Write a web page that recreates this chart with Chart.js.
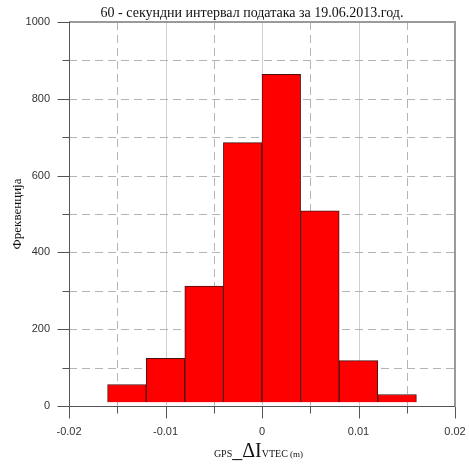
<!DOCTYPE html>
<html>
<head>
<meta charset="utf-8">
<script src="https://cdn.jsdelivr.net/npm/chart.js@4.4.1/dist/chart.umd.min.js"></script>
<style>
html,body{margin:0;padding:0;background:#fff}
</style>
</head>
<body>
<canvas id="ChartHTML" width="469" height="467"></canvas>
<script>
// data
const TITLE="60 - секундни интервал података за 19.06.2013.год."
const Y_TITLE="Фреквенција"
const BIN_START=[-0.016,-0.012,-0.008,-0.004,0,0.004,0.008,0.012]
const BIN_WIDTH=0.004
const FREQ=[56,124,312,686,864,508,118,30]
const X_RANGE=[-0.02,0.02]
const X_STEP=0.01
const Y_RANGE=[0,1000]
const Y_STEP=200

let Chart1

function fmtX(v){let s=Number(v.toFixed(3)).toString();return s=="-0"?"0":s}

// gridlines, ticks and frame drawn by hand (mixed dashed/solid + minor ticks)
const frameK={
 id:'frameK',
 beforeDatasetsDraw(chart){
  const ctx=chart.ctx,a=chart.chartArea,X=chart.scales.x,Y=chart.scales.y
  ctx.save()
  ctx.lineWidth=1
  for(let v=X_RANGE[0]+X_STEP/2;v<X_RANGE[1]-1e-9;v+=X_STEP/2){
   const px=Math.round(X.getPixelForValue(v))+0.5
   const major=Math.abs(Math.round(v/X_STEP)*X_STEP-v)<1e-9
   ctx.beginPath()
   if(major){ctx.strokeStyle='#cfcfcf';ctx.setLineDash([])}else{ctx.strokeStyle='#b4b4b4';ctx.setLineDash([8,5])}
   ctx.moveTo(px,a.top);ctx.lineTo(px,a.bottom);ctx.stroke()
  }
  ctx.strokeStyle='#b4b4b4';ctx.setLineDash([8,5])
  for(let v=Y_RANGE[0]+Y_STEP/2;v<Y_RANGE[1]-1e-9;v+=Y_STEP/2){
   const py=Math.round(Y.getPixelForValue(v))+0.5
   ctx.beginPath();ctx.moveTo(a.left,py);ctx.lineTo(a.right,py);ctx.stroke()
  }
  ctx.restore()
 },
 afterDatasetsDraw(chart){
  const ctx=chart.ctx,a=chart.chartArea,X=chart.scales.x,Y=chart.scales.y
  ctx.save()
  // top + right frame
  ctx.strokeStyle='#9a9a9a';ctx.lineWidth=2
  ctx.beginPath();ctx.moveTo(a.left,a.top);ctx.lineTo(a.right,a.top);ctx.lineTo(a.right,a.bottom);ctx.stroke()
  // axes
  ctx.strokeStyle='#555';ctx.lineWidth=1
  const L=Math.round(a.left)+0.5,B=Math.round(a.bottom)+0.5
  ctx.beginPath();ctx.moveTo(L,a.top);ctx.lineTo(L,B);ctx.lineTo(a.right,B);ctx.stroke()
  for(let v=X_RANGE[0];v<=X_RANGE[1]+1e-9;v+=X_STEP/2){
   const px=Math.round(X.getPixelForValue(v))+0.5
   const major=Math.abs(Math.round(v/X_STEP)*X_STEP-v)<1e-9
   ctx.beginPath();ctx.moveTo(px,B);ctx.lineTo(px,B+(major?12:7));ctx.stroke()
  }
  for(let v=Y_RANGE[0];v<=Y_RANGE[1]+1e-9;v+=Y_STEP/2){
   const py=Math.round(Y.getPixelForValue(v))+0.5
   const major=Math.abs(Math.round(v/Y_STEP)*Y_STEP-v)<1e-9
   ctx.beginPath();ctx.moveTo(L,py);ctx.lineTo(L-(major?12:7),py);ctx.stroke()
  }
  ctx.restore()
 },
 afterDraw(chart){
  const ctx=chart.ctx
  ctx.save()
  ctx.fillStyle='#111'
  ctx.textBaseline='alphabetic'
  ctx.font='14px "Liberation Serif"'
  ctx.textAlign='center'
  ctx.fillText(TITLE,252,17)
  // x title with mixed sizes: GPS_ ΔI VTEC (m)
  const parts=[["GPS",'10px "Liberation Serif"'],["_ΔI",'20px "Liberation Serif"'],["VTEC",'10px "Liberation Serif"'],[" (m)",'9px "Liberation Serif"']]
  let w=0
  parts.forEach(p=>{ctx.font=p[1];w+=ctx.measureText(p[0]).width})
  let x=258.5-w/2
  ctx.textAlign='left'
  parts.forEach(p=>{ctx.font=p[1];ctx.fillText(p[0],x,457);x+=ctx.measureText(p[0]).width})
  ctx.restore()
 }
}

function LoadC1(){
 Chart1=new Chart(
  document.getElementById('ChartHTML'),
  {
   type:'bar',
   data:{
    datasets:[{
     data:BIN_START.map((s,i)=>({x:s+BIN_WIDTH/2,y:FREQ[i]})),
     backgroundColor:'#ff0000',
     borderColor:'#4a1010',
     borderWidth:1,
     base:10,
     barPercentage:1,
     categoryPercentage:1
    }]
   },
   options:{
    responsive:false,
    animation:false,
    events:[],
    layout:{padding:{top:22,right:14,left:0,bottom:0}},
    plugins:{legend:{display:false},tooltip:{enabled:false},title:{display:false}},
    scales:{
     x:{
      type:'linear',min:X_RANGE[0],max:X_RANGE[1],offset:false,
      grid:{display:false,drawTicks:false},border:{display:false},
      ticks:{stepSize:X_STEP,padding:19,color:'#333',font:{family:'"Liberation Sans"',size:11},callback:v=>fmtX(v),maxRotation:0},
      afterFit:s=>{s.height=61;s.paddingLeft=0;s.paddingRight=0}
     },
     y:{
      min:Y_RANGE[0],max:Y_RANGE[1],
      grid:{display:false,drawTicks:false},border:{display:false},
      ticks:{stepSize:Y_STEP,padding:19,color:'#333',font:{family:'"Liberation Sans"',size:11},callback:v=>String(v)},
      title:{display:true,text:Y_TITLE,color:'#111',font:{family:'"Liberation Serif"',size:13},padding:{top:10,bottom:0}},
      afterFit:s=>{s.width=69;s.paddingTop=0;s.paddingBottom=0}
     }
    }
   },
   plugins:[frameK]
  }
 )
}

LoadC1()
</script>
</body>
</html>
